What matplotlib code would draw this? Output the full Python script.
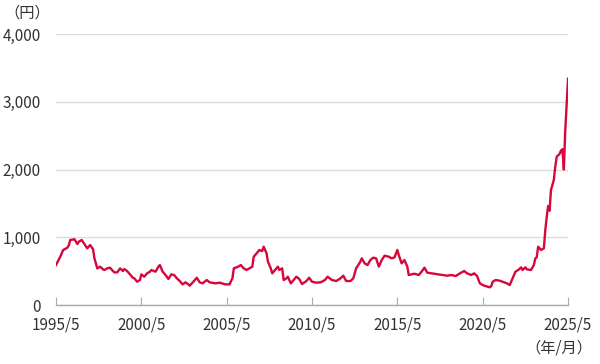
import matplotlib
matplotlib.use("Agg")
import matplotlib.pyplot as plt
import pandas as pd

plt.rcParams['font.family'] = ['Noto Sans CJK JP', 'DejaVu Sans']

# monthly price readings (円)
dates = [
    "1995-05", "1995-08", "1995-10", "1996-01", "1996-02", "1996-03", "1996-06", "1996-08",
    "1996-09", "1996-11", "1997-01", "1997-03", "1997-05", "1997-07", "1997-08", "1997-10",
    "1997-12", "1998-02", "1998-03", "1998-05", "1998-07", "1998-09", "1998-10", "1998-12",
    "1999-02", "1999-04", "1999-05", "1999-07", "1999-09", "1999-11", "1999-12", "2000-02",
    "2000-04", "2000-05", "2000-07", "2000-09", "2000-11", "2000-12", "2001-03", "2001-05",
    "2001-06", "2001-08", "2001-10", "2001-12", "2002-02", "2002-04", "2002-06", "2002-08",
    "2002-10", "2002-12", "2003-02", "2003-03", "2003-06", "2003-08", "2003-10", "2003-12",
    "2004-03", "2004-05", "2004-09", "2004-12", "2005-04", "2005-07", "2005-09", "2005-10",
    "2006-01", "2006-03", "2006-05", "2006-07", "2006-11", "2006-12", "2007-02", "2007-04",
    "2007-06", "2007-07", "2007-09", "2007-10", "2007-12", "2008-01", "2008-03", "2008-05",
    "2008-06", "2008-08", "2008-09", "2008-11", "2008-12", "2009-02", "2009-04", "2009-06",
    "2009-08", "2009-10", "2010-01", "2010-03", "2010-05", "2010-08", "2010-11", "2011-02",
    "2011-04", "2011-07", "2011-10", "2012-01", "2012-03", "2012-05", "2012-08", "2012-10",
    "2012-12", "2013-03", "2013-04", "2013-06", "2013-08", "2013-10", "2013-12", "2014-02",
    "2014-04", "2014-06", "2014-08", "2014-11", "2015-01", "2015-03", "2015-05", "2015-06",
    "2015-08", "2015-10", "2015-12", "2016-01", "2016-03", "2016-05", "2016-08", "2016-10",
    "2016-12", "2017-02", "2017-05", "2017-07", "2017-10", "2018-01", "2018-04", "2018-07",
    "2018-10", "2019-01", "2019-04", "2019-06", "2019-09", "2019-11", "2020-01", "2020-03",
    "2020-05", "2020-07", "2020-10", "2020-11", "2020-12", "2021-02", "2021-05", "2021-07",
    "2021-10", "2021-12", "2022-02", "2022-04", "2022-06", "2022-08", "2022-09", "2022-11",
    "2022-12", "2023-03", "2023-05", "2023-06", "2023-07", "2023-08", "2023-09", "2023-10",
    "2023-12", "2024-01", "2024-02", "2024-03", "2024-04", "2024-05", "2024-07", "2024-08",
    "2024-09", "2024-11", "2024-12", "2025-01", "2025-02", "2025-03", "2025-04", "2025-05",
]
prices = [
    590, 713, 812, 846, 885, 960, 970, 900,
    935, 960, 896, 837, 885, 826, 689, 541,
    566, 527, 517, 541, 551, 502, 482, 482,
    541, 502, 531, 502, 453, 403, 394, 344,
    369, 453, 418, 468, 492, 517, 492, 566,
    590, 492, 443, 384, 453, 443, 394, 354,
    305, 335, 305, 285, 354, 403, 335, 320,
    369, 335, 320, 330, 305, 305, 394, 541,
    566, 590, 541, 517, 566, 713, 763, 812,
    797, 861, 763, 640, 541, 468, 517, 566,
    517, 541, 369, 394, 418, 320, 369, 418,
    384, 310, 354, 403, 344, 330, 335, 369,
    418, 369, 354, 394, 433, 354, 354, 394,
    541, 640, 689, 615, 590, 664, 699, 689,
    566, 664, 728, 713, 689, 703, 812, 738,
    615, 664, 566, 443, 453, 462, 443, 492,
    551, 477, 468, 462, 453, 443, 433, 443,
    428, 468, 502, 468, 443, 468, 428, 320,
    295, 280, 261, 280, 344, 369, 359, 344,
    320, 295, 394, 492, 517, 556, 517, 556,
    527, 517, 590, 689, 703, 861, 837, 812,
    837, 1107, 1304, 1461, 1392, 1697, 1845, 2041,
    2189, 2229, 2280, 2300, 2000, 2550, 2950, 3340,
]
x_ticks = ["1995-05", "2000-05", "2005-05", "2010-05", "2015-05", "2020-05", "2025-05"]
x_tick_labels = ["1995/5", "2000/5", "2005/5", "2010/5", "2015/5", "2020/5", "2025/5"]
y_ticks = [0, 1000, 2000, 3000, 4000]
y_tick_labels = ["0", "1,000", "2,000", "3,000", "4,000"]

x = pd.to_datetime(dates)

fig = plt.figure(figsize=(6, 3.64), dpi=100)
ax = fig.add_axes([0.0933, 0.162, 0.8534, 0.7446])

ax.plot(x, prices, color="#d7063b", lw=1.7, solid_joinstyle="round")

ax.set_xlim(pd.Timestamp("1995-05-01"), pd.Timestamp("2025-05-01"))
ax.set_ylim(0, 4000)

ax.set_yticks(y_ticks)
ax.set_yticklabels(y_tick_labels)
ax.set_xticks(pd.to_datetime(x_ticks))
ax.set_xticklabels(x_tick_labels)

ax.grid(axis="y", color="#dddddd", lw=1)
ax.set_axisbelow(True)
for s in ["top", "right", "left"]:
    ax.spines[s].set_visible(False)
ax.spines["bottom"].set_color("#aaaaaa")
ax.spines["bottom"].set_linewidth(1)

ax.tick_params(axis="y", length=0, pad=11, labelsize=11, labelcolor="#333333")
ax.tick_params(axis="x", direction="in", length=6, color="#aaaaaa", pad=8,
               labelsize=11, labelcolor="#333333")

fig.text(0.008, 0.965, "（円）", ha="left", va="center", fontsize=11, color="#333333")
fig.text(0.987, 0.045, "（年/月）", ha="right", va="center", fontsize=11, color="#333333")

fig.savefig("out.png", dpi=100)
